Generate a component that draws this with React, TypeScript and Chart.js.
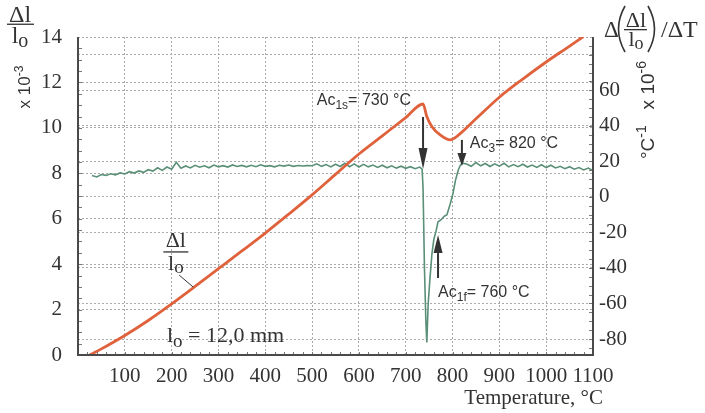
import React, { useEffect, useRef } from "react";
import { Chart, registerables } from "chart.js";

Chart.register(...registerables);

// Relative length change Δl/l0 (×10^-3), left axis
const dilTemps = [25, 50, 100, 150, 200, 250, 300, 350, 400, 450, 500, 550, 600, 650, 700, 737, 745, 756, 773, 795, 805, 850, 900, 950, 1000, 1050, 1078];
const dilValues = [0, 0.27, 0.86, 1.52, 2.25, 3.02, 3.8, 4.58, 5.37, 6.2, 7.05, 7.95, 8.85, 9.65, 10.45, 11.05, 10.5, 10.05, 9.7, 9.47, 9.56, 10.4, 11.35, 12.15, 12.9, 13.6, 14.0];

// Derivative Δ(Δl/l0)/ΔT (°C^-1 ×10^-6), right axis
const derivTemps = [
  30, 40, 50, 60, 70, 80, 90, 100, 110, 120, 130, 140, 150, 160, 170, 180, 190, 200,
  210, 220, 230, 240, 250, 260, 270, 280, 290, 300, 310, 320, 330, 340, 350, 360, 370, 380,
  390, 400, 410, 420, 430, 440, 450, 460, 470, 480, 490, 500, 510, 520, 530, 540, 550, 560,
  570, 580, 590, 600, 610, 620, 630, 640, 650, 660, 670, 680, 690, 700, 710, 720, 730, 735,
  737, 740, 743, 745, 748, 752, 756, 760, 765, 769, 775, 782, 788, 795, 801, 806, 812, 817, 822,
  830, 840, 850, 860, 870, 880, 890, 900, 910, 920, 930, 940, 950, 960, 970, 980, 990, 1000,
  1010, 1020, 1030, 1040, 1050, 1060, 1070, 1080, 1090, 1100,
];
const derivValues = [
  12.0, 11.2, 12.6, 12.1, 13.0, 12.4, 13.5, 12.9, 14.2, 13.4, 14.6, 13.8, 15.3, 14.5, 16.4, 14.9, 16.8, 15.6,
  19.5, 16.1, 17.4, 16.3, 17.8, 16.7, 17.5, 16.4, 17.9, 16.9, 17.6, 16.8, 18.0, 17.1, 17.7, 16.9, 17.8, 17.0,
  18.1, 17.2, 17.6, 16.9, 17.8, 17.3, 17.9, 17.2, 17.7, 17.4, 17.6, 17.5, 18.6, 17.2, 18.2, 16.9, 18.4, 17.1,
  18.9, 17.0, 18.6, 16.8, 18.3, 16.9, 17.9, 16.6, 17.8, 16.4, 17.5, 16.2, 17.3, 16.1, 17.0, 15.9, 16.8, 15.5,
  5, -40, -70, -82, -60, -45, -32, -24, -19, -14, -13, -11, -10, -4, 2, 9, 15, 18, 19,
  18.5, 17.2, 19.3, 17.5, 18.8, 17.1, 18.6, 17.3, 18.9, 16.9, 18.2, 17.0, 18.4, 16.8, 17.9, 16.6, 18.1, 16.5,
  17.8, 16.3, 17.2, 15.9, 17.0, 15.6, 16.5, 15.2, 16.2, 14.8,
];

const xTicks = [0, 100, 200, 300, 400, 500, 600, 700, 800, 900, 1000, 1100];
const leftTicks = [0, 2, 4, 6, 8, 10, 12, 14];
const rightTicks = [-80, -60, -40, -20, 0, 20, 40, 60, 80];

// Annotations (data coordinates: temperature, left-axis value)
const arrows = [
  { t: 737, from: 10.48, to: 8.19, head: 21 },
  { t: 820, from: 9.47, to: 8.32, head: 13 },
  { t: 769, from: 3.39, to: 5.28, head: 18 },
];
const labels = [
  { t: 510, v: 11.0, main: "Ac", sub: "1s", rest: "= 730 °C" },
  { t: 837, v: 9.11, main: "Ac", sub: "3", rest: "= 820 °C" },
  { t: 769, v: 2.55, main: "Ac", sub: "1f", rest: "= 760 °C" },
];

const ORANGE = "#e0623c";
const GREEN = "#5a8f78";
const INK = "#333333";
const SERIF = "'Liberation Serif', 'Times New Roman', serif";
const SANS = "'Liberation Sans', Arial, sans-serif";

type Run = { t: string; font: string; dy?: number };

function drawRuns(ctx: CanvasRenderingContext2D, x: number, y: number, runs: Run[], align: "left" | "center" = "left") {
  let total = 0;
  const widths = runs.map((r) => {
    ctx.font = r.font;
    const w = ctx.measureText(r.t).width;
    total += w;
    return w;
  });
  let cx = align === "center" ? x - total / 2 : x;
  ctx.textAlign = "left";
  runs.forEach((r, i) => {
    ctx.font = r.font;
    ctx.fillText(r.t, cx, y + (r.dy || 0));
    cx += widths[i];
  });
}

const overlay = {
  id: "overlay",
  afterDraw(chart: any) {
    const ctx: CanvasRenderingContext2D = chart.ctx;
    const { left, right, top, bottom } = chart.chartArea;
    const xs = chart.scales.x;
    const yl = chart.scales.y;
    const yr = chart.scales.y1;
    ctx.save();

    // minor ticks
    ctx.strokeStyle = "#777";
    ctx.lineWidth = 1;
    ctx.beginPath();
    for (let v = 0.5; v < 14; v += 0.5) {
      const p = Math.round(yl.getPixelForValue(v)) + 0.5;
      ctx.moveTo(left, p);
      ctx.lineTo(left + 4, p);
    }
    for (let v = -85; v <= 85; v += 5) {
      const p = Math.round(yr.getPixelForValue(v)) + 0.5;
      ctx.moveTo(right, p);
      ctx.lineTo(right - 4, p);
    }
    for (let v = 20; v < 1100; v += 20) {
      const p = Math.round(xs.getPixelForValue(v)) + 0.5;
      ctx.moveTo(p, bottom);
      ctx.lineTo(p, bottom - 3);
    }
    ctx.stroke();

    // axis lines
    ctx.strokeStyle = "#4a4a4a";
    ctx.lineWidth = 2;
    ctx.beginPath();
    ctx.moveTo(left, top);
    ctx.lineTo(left, bottom);
    ctx.lineTo(right, bottom);
    ctx.lineTo(right, top);
    ctx.stroke();

    // arrows
    ctx.fillStyle = "#333";
    ctx.strokeStyle = "#333";
    arrows.forEach((a) => {
      const x = xs.getPixelForValue(a.t);
      const y0 = yl.getPixelForValue(a.from);
      const y1 = yl.getPixelForValue(a.to);
      const dir = y1 > y0 ? 1 : -1;
      ctx.lineWidth = 2;
      ctx.beginPath();
      ctx.moveTo(x, y0);
      ctx.lineTo(x, y1 - dir * a.head);
      ctx.stroke();
      ctx.beginPath();
      ctx.moveTo(x, y1);
      ctx.lineTo(x - 4.5, y1 - dir * a.head);
      ctx.lineTo(x + 4.5, y1 - dir * a.head);
      ctx.closePath();
      ctx.fill();
    });

    // Ac labels
    ctx.fillStyle = INK;
    ctx.textBaseline = "alphabetic";
    labels.forEach((l) => {
      const x = xs.getPixelForValue(l.t);
      const y = yl.getPixelForValue(l.v);
      drawRuns(ctx, x, y, [
        { t: l.main, font: `16px ${SANS}` },
        { t: l.sub, font: `12px ${SANS}`, dy: 4 },
        { t: l.rest, font: `16px ${SANS}` },
      ]);
    });

    // Δl / lo curve label
    {
      const cx = xs.getPixelForValue(209);
      const yTop = yl.getPixelForValue(4.76);
      const yBar = yl.getPixelForValue(4.54);
      const yBot = yl.getPixelForValue(3.74);
      ctx.font = `22px ${SERIF}`;
      ctx.textAlign = "center";
      ctx.fillText("Δl", cx, yTop);
      ctx.fillRect(cx - 12.5, yBar - 0.6, 25, 1.3);
      drawRuns(ctx, cx, yBot, [
        { t: "l", font: `22px ${SERIF}` },
        { t: "o", font: `19px ${SERIF}`, dy: 3 },
      ], "center");
      ctx.lineWidth = 1;
      ctx.strokeStyle = "#333";
      ctx.beginPath();
      ctx.moveTo(xs.getPixelForValue(216), yl.getPixelForValue(3.52));
      ctx.lineTo(xs.getPixelForValue(246), yl.getPixelForValue(2.99));
      ctx.stroke();
    }

    // lo = 12,0 mm
    drawRuns(ctx, xs.getPixelForValue(190), yl.getPixelForValue(0.57), [
      { t: "l", font: `22px ${SERIF}` },
      { t: "o", font: `19px ${SERIF}`, dy: 5 },
      { t: " = 12,0 mm", font: `22px ${SERIF}` },
    ]);

    // Left axis title: Δl / lo
    ctx.font = `24px ${SERIF}`;
    ctx.textAlign = "center";
    ctx.fillText("Δl", 20, 22);
    ctx.fillRect(7, 23.6, 27, 1.3);
    drawRuns(ctx, 20, 43, [
      { t: "l", font: `24px ${SERIF}` },
      { t: "o", font: `20px ${SERIF}`, dy: 4 },
    ], "center");

    // Left rotated unit: x 10^-3
    ctx.save();
    ctx.translate(30, 87);
    ctx.rotate(-Math.PI / 2);
    drawRuns(ctx, 0, 0, [
      { t: "x 10", font: `17px ${SANS}` },
      { t: "-3", font: `12px ${SANS}`, dy: -7 },
    ], "center");
    ctx.restore();

    // Right axis title: Δ(Δl/lo)/ΔT
    ctx.textAlign = "left";
    ctx.font = `23px ${SERIF}`;
    ctx.fillText("Δ", 604, 37);
    ctx.lineWidth = 1.6;
    ctx.strokeStyle = "#333";
    ctx.beginPath();
    ctx.moveTo(625, 6);
    ctx.quadraticCurveTo(612, 29, 625, 52);
    ctx.stroke();
    ctx.beginPath();
    ctx.moveTo(648, 6);
    ctx.quadraticCurveTo(661, 29, 648, 52);
    ctx.stroke();
    ctx.textAlign = "center";
    ctx.font = `22px ${SERIF}`;
    ctx.fillText("Δl", 636, 27);
    ctx.fillRect(624, 29, 23, 1.3);
    drawRuns(ctx, 636, 46, [
      { t: "l", font: `22px ${SERIF}` },
      { t: "o", font: `18px ${SERIF}`, dy: 3 },
    ], "center");
    ctx.textAlign = "left";
    ctx.font = `24px ${SERIF}`;
    ctx.fillText("/ΔT", 661, 37);

    // Right rotated unit: °C^-1 x 10^-6
    ctx.save();
    ctx.translate(654, 110);
    ctx.rotate(-Math.PI / 2);
    drawRuns(ctx, 0, 0, [
      { t: "°C", font: `19px ${SANS}` },
      { t: "-1", font: `14px ${SANS}`, dy: -8 },
      { t: "   x 10", font: `19px ${SANS}` },
      { t: "-6", font: `14px ${SANS}`, dy: -8 },
    ], "center");
    ctx.restore();

    // X axis title
    ctx.textAlign = "right";
    ctx.font = `21px ${SERIF}`;
    ctx.fillText("Temperature, °C", 603, 404);

    ctx.restore();
  },
};

export default function App() {
  const ref = useRef<HTMLCanvasElement>(null);

  useEffect(() => {
    if (!ref.current) return;
    const gridStyle = { color: "#ababab", lineWidth: 1, drawTicks: false };
    const borderStyle = { display: false, dash: [2, 2] };
    const chart = new Chart(ref.current, {
      type: "line",
      data: {
        datasets: [
          {
            label: "Δl/lo",
            data: dilTemps.map((t, i) => ({ x: t, y: dilValues[i] })),
            yAxisID: "y",
            borderColor: ORANGE,
            borderWidth: 2.8,
            pointRadius: 0,
            cubicInterpolationMode: "monotone",
            borderJoinStyle: "round",
            borderCapStyle: "round",
          },
          {
            label: "Δ(Δl/lo)/ΔT",
            data: derivTemps.map((t, i) => ({ x: t, y: derivValues[i] })),
            yAxisID: "y1",
            borderColor: GREEN,
            borderWidth: 1.6,
            pointRadius: 0,
            tension: 0,
          },
        ],
      },
      options: {
        animation: false,
        responsive: false,
        maintainAspectRatio: false,
        layout: { padding: { top: 37, left: 0, right: 0, bottom: 0 } },
        plugins: { legend: { display: false }, tooltip: { enabled: false } },
        scales: {
          x: {
            type: "linear",
            min: 0,
            max: 1100,
            afterBuildTicks: (s: any) => {
              s.ticks = xTicks.map((v) => ({ value: v }));
            },
            afterFit: (s: any) => {
              s.height = 58;
            },
            ticks: {
              autoSkip: false,
              maxRotation: 0,
              padding: 9,
              color: INK,
              font: { family: SERIF, size: 21 },
              callback: (v: any) => (v === 0 ? "" : String(v)),
            },
            grid: gridStyle,
            border: borderStyle,
          },
          y: {
            type: "linear",
            position: "left",
            min: 0,
            max: 14,
            afterBuildTicks: (s: any) => {
              s.ticks = leftTicks.map((v) => ({ value: v }));
            },
            afterFit: (s: any) => {
              s.width = 78;
            },
            ticks: {
              padding: 16,
              color: INK,
              font: { family: SERIF, size: 21 },
            },
            grid: gridStyle,
            border: borderStyle,
          },
          y1: {
            type: "linear",
            position: "right",
            min: -89,
            max: 90,
            afterBuildTicks: (s: any) => {
              s.ticks = rightTicks.map((v) => ({ value: v }));
            },
            afterFit: (s: any) => {
              s.width = 112;
            },
            ticks: {
              padding: 6,
              color: INK,
              font: { family: SERIF, size: 21 },
              callback: (v: any) => (v === 80 ? "" : String(v)),
            },
            grid: gridStyle,
            border: borderStyle,
          },
        },
      },
      plugins: [overlay],
    } as any);
    return () => chart.destroy();
  }, []);

  return (
    <div style={{ position: "fixed", left: 0, top: 0, width: 705, height: 413, background: "#fff" }}>
      <canvas ref={ref} width={705} height={413} style={{ width: 705, height: 413, display: "block" }} />
    </div>
  );
}
